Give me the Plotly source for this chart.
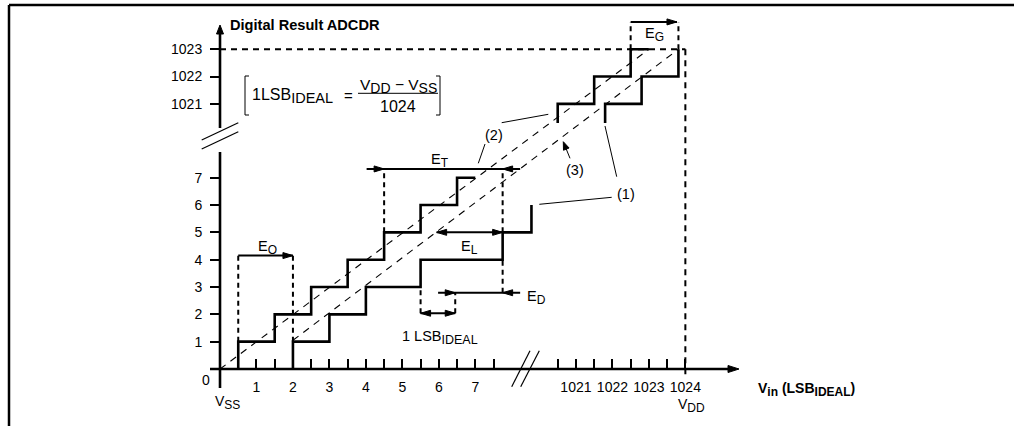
import plotly.graph_objects as go

# ---------------- data (LSB units) ----------------
y_ticks_low = [1, 2, 3, 4, 5, 6, 7]
y_ticks_high = [1021, 1022, 1023]
x_ticks_low = [1, 2, 3, 4, 5, 6, 7]
x_ticks_high = [1021, 1022, 1023, 1024]
x_half_low = [0.5, 1.5, 2.5, 3.5, 4.5, 5.5, 6.5, 7.5]
x_half_high = [1020.5, 1021.5, 1022.5, 1023.5]

# (2) ideal transfer curve: transition points and output codes
ideal_trans_low = [0.5, 1.5, 2.5, 3.5, 4.5, 5.5, 6.5]
ideal_codes_low = [1, 2, 3, 4, 5, 6, 7]
ideal_trans_high = [1020.5, 1021.5, 1022.5]
ideal_codes_high = [1021, 1022, 1023]

# (1) actual transfer curve
actual_trans_low = [2.0, 3.0, 4.0, 5.5, 7.75, 8.54]
actual_codes_low = [1, 2, 3, 4, 5, 6]
actual_trans_high = [1021.8, 1022.8, 1023.81]
actual_codes_high = [1021, 1022, 1023]

# straight lines: ideal (dashed) and end-point fit (3)
ideal_line_x = [0.0, 1023.0]
ideal_line_y = [0.0, 1023.0]
fit_line_x = [2.0, 1023.81]
fit_line_y = [1.05, 1023.0]

# error arrows: name -> (x_start, x_end, y, heads[(x_tip, dir)])
err_arrows = {
    "EO": (0.5, 2.0, 4.15, [(2.0, 1)]),
    "ET": (4.02, 8.23, 7.32, [(4.5, 1), (7.75, -1)]),
    "EL": (5.94, 7.75, 5.0, [(5.94, -1), (7.75, 1)]),
    "ED": (5.98, 8.23, 2.79, [(6.45, 1), (7.75, -1)]),
    "LSB": (5.5, 6.45, 2.04, [(5.5, -1), (6.45, 1)]),
    "EG": (1022.5, 1023.77, 1024.0, [(1023.77, 1)]),
}
# dashed guide segments: (x, y_from, y_to)
guides_v = [
    (0.5, 1.0, 4.15), (2.0, 1.0, 4.15),
    (4.5, 5.0, 7.32), (7.75, 5.0, 7.32), (7.75, 2.79, 4.0),
    (5.5, 2.04, 3.0), (6.45, 2.04, 2.79),
    (1022.5, 1023.0, 1024.0), (1023.81, 1023.0, 1024.0),
]
full_scale_code = 1023
full_scale_vin = 1024

# ---------------- broken-axis scale ----------------
UX = 36.47   # px per LSB horizontally
UY = 27.33   # px per LSB vertically
X_OFF = 1011.24
Y_OFF = 1011.3
X0_PX, Y0_PX = 220, 369
W, H = 1014, 426


def bx(v):
    return v - X_OFF if v > 500 else v


def by(v):
    return v - Y_OFF if v > 500 else v


def stair(trans, codes, y0, x_end=None):
    pts = [(trans[0], y0)]
    for i, t in enumerate(trans):
        pts.append((t, codes[i]))
        if i + 1 < len(trans):
            pts.append((trans[i + 1], codes[i]))
    if x_end is not None:
        pts.append((x_end, codes[-1]))
    return [bx(p[0]) for p in pts], [by(p[1]) for p in pts]


def head(xt, yt, dx, dy, L=10, Wd=3.2):
    # tip in data coords, direction (dx,dy) in px (y up)
    n = (dx * dx + dy * dy) ** 0.5
    dx, dy = dx / n, dy / n
    bxp, byp = -dx * L, -dy * L
    px, py = -dy * Wd, dx * Wd
    xs = [xt, xt + (bxp + px) / UX, xt + (bxp - px) / UX, xt]
    ys = [yt, yt + (byp + py) / UY, yt + (byp - py) / UY, yt]
    return xs, ys


def X(px):
    return (px - X0_PX) / UX


def Y(py):
    return (Y0_PX - py) / UY


fig = go.Figure()


def add_lines(segs, width, dash=None, color="black"):
    xs, ys = [], []
    for sx, sy in segs:
        xs += list(sx) + [None]
        ys += list(sy) + [None]
    fig.add_trace(go.Scatter(x=xs, y=ys, mode="lines", hoverinfo="skip",
                             line=dict(color=color, width=width, dash=dash),
                             showlegend=False, cliponaxis=False))


def add_heads(hs):
    xs, ys = [], []
    for hx, hy in hs:
        xs += hx + [None]
        ys += hy + [None]
    fig.add_trace(go.Scatter(x=xs, y=ys, mode="lines", fill="toself",
                             fillcolor="black", line=dict(color="black", width=1),
                             hoverinfo="skip", showlegend=False))


# thin dashed straight lines
add_lines([([bx(v) for v in ideal_line_x], [by(v) for v in ideal_line_y]),
           ([bx(v) for v in fit_line_x], [by(v) for v in fit_line_y])],
          1.1, dash="7px,6px")

# full-scale dashed limits
add_lines([([0, bx(full_scale_vin)], [by(full_scale_code)] * 2),
           ([bx(full_scale_vin)] * 2, [by(full_scale_code), Y(379)])],
          2, dash="6px,5px")

# guide dashed verticals
add_lines([([bx(g[0])] * 2, [by(g[1]), by(g[2])]) for g in guides_v], 2, dash="5px,4px")

# staircases
stairs = [stair(ideal_trans_low, ideal_codes_low, 0, 7.0),
          stair(ideal_trans_high, ideal_codes_high, 1020.3, 1023.0),
          stair(actual_trans_low, actual_codes_low, 0),
          stair(actual_trans_high, actual_codes_high, 1020.3)]
add_lines(stairs, 2.6)

# error arrows
arrow_segs, heads = [], []
for k, (xa, xb, ya, hl) in err_arrows.items():
    arrow_segs.append(([bx(xa), bx(xb)], [by(ya)] * 2))
    for xt, d in hl:
        heads.append(head(bx(xt), by(ya), d, 0, L=10, Wd=3.0))
add_lines(arrow_segs, 2)

# axes (drawn, broken)
add_lines([([0, 0], [Y(388), Y(152)]), ([0, 0], [Y(128), Y(32)]),
           ([X(210), X(730)], [0, 0])], 2.6)
heads.append(head(0, Y(25), 0, 1, L=9, Wd=3.5))
heads.append(head(X(739), 0, 1, 0, L=11, Wd=3.5))

# leader lines
add_lines([([X(501.7), X(548.3)], [Y(122.7), Y(114.3)]),
           ([X(478.3), X(485)], [Y(163.3), Y(144)]),
           ([X(611.7), X(539.3)], [Y(197.3), Y(204.3)]),
           ([X(616.7), X(605)], [Y(176.7), Y(126)]),
           ([X(570), X(565)], [Y(158.3), Y(146)])], 1)
heads.append(head(X(563.3), Y(141.7), -6.7, 16.6, L=8, Wd=3))

# break marks
add_lines([([X(201.7), X(238.3)], [Y(140), Y(122.7)]),
           ([X(201.7), X(238.3)], [Y(149), Y(131.7)]),
           ([X(511.7), X(530)], [Y(386.7), Y(350.7)]),
           ([X(520.7), X(539.3)], [Y(386.7), Y(350.7)])], 1.2)

# formula bracket + fraction bar
add_lines([([X(249), X(245), X(245), X(249)], [Y(76), Y(76), Y(115), Y(115)]),
           ([X(436), X(440), X(440), X(436)], [Y(76), Y(76), Y(115), Y(115)]),
           ([X(358), X(438)], [Y(93.3), Y(93.3)])], 1)

add_heads(heads)

FONT = "Liberation Sans, Arial, Helvetica, sans-serif"


def sub(main, s, size):
    return f'{main}<sub><span style="font-size:{size}px">{s}</span></sub>'


texts = [
    ("<b>Digital Result ADCDR</b>", X(228), Y(25), 14.6, "left"),
    ("0", X(206), Y(380), 14, "center"),
    (sub("V", "SS", 12), X(227), Y(402), 14, "center"),
    (sub("V", "DD", 12), X(691), Y(405), 14, "center"),
    ("<b>V<sub><span style='font-size:12px'>in</span></sub> (LSB<sub><span style='font-size:12px'>IDEAL</span></sub>)</b>",
     X(756), Y(389), 14, "left"),
    (sub("E", "O", 12), X(267), Y(247), 14.5, "center"),
    (sub("E", "T", 12), X(440), Y(160), 14.5, "center"),
    (sub("E", "L", 12), X(469), Y(247), 14.5, "center"),
    (sub("E", "D", 12), X(525), Y(297), 14.5, "left"),
    (sub("E", "G", 12), X(654), Y(34), 14.5, "center"),
    (sub("1 LSB", "IDEAL", 12.5), X(440), Y(337), 14.5, "center"),
    ("(1)", X(626), Y(194), 14.5, "center"),
    ("(2)", X(493.5), Y(134.5), 14.5, "center"),
    ("(3)", X(574.5), Y(170), 14.5, "center"),
    (sub("1LSB", "IDEAL", 14.5), X(250), Y(96), 16, "left"),
    ("=", X(348), Y(95), 15, "center"),
    (sub("V", "DD", 14) + " \u2212 " + sub("V", "SS", 14), X(398), Y(86), 15.5, "center"),
    ("1024", X(398), Y(106), 16, "center"),
]
annotations = [dict(text=t, x=x, y=y, xref="x", yref="y", showarrow=False,
                    xanchor=xa, yanchor="middle", font=dict(size=s, color="black", family=FONT))
               for t, x, y, s, xa in texts]

frame_x = 9 / W
frame_y = 1 - 5 / H
shapes = [dict(type="line", xref="paper", yref="paper", x0=frame_x, x1=frame_x, y0=-0.05, y1=frame_y,
               line=dict(color="black", width=2.5)),
          dict(type="line", xref="paper", yref="paper", x0=frame_x, x1=1.05, y0=frame_y, y1=frame_y,
               line=dict(color="black", width=2.5))]

x_tickvals = x_ticks_low + [bx(v) for v in x_ticks_high]
x_ticktext = [str(v) for v in x_ticks_low + x_ticks_high]
x_minor = x_half_low + [bx(v) for v in x_half_high]
y_tickvals = y_ticks_low + [by(v) for v in y_ticks_high]
y_ticktext = [str(v) for v in y_ticks_low + y_ticks_high]

fig.update_layout(
    width=W, height=H, autosize=False,
    margin=dict(l=0, r=0, t=0, b=0),
    paper_bgcolor="white", plot_bgcolor="white",
    font=dict(family=FONT, color="black", size=14),
    annotations=annotations, shapes=shapes, showlegend=False,
    xaxis=dict(range=[-X0_PX / UX, (W - X0_PX) / UX], anchor="free", position=1 - Y0_PX / H,
               showgrid=False, zeroline=False, showline=False,
               tickmode="array", tickvals=x_tickvals, ticktext=x_ticktext,
               ticks="inside", ticklen=10, tickwidth=2, tickcolor="black",
               minor=dict(tickmode="array", tickvals=x_minor, ticks="inside", ticklen=10,
                          tickwidth=2, tickcolor="black", showgrid=False),
               tickfont=dict(size=14, family=FONT, color="black"), ticklabelstandoff=8),
    yaxis=dict(range=[-(H - Y0_PX) / UY, Y0_PX / UY], anchor="free", position=X0_PX / W,
               showgrid=False, zeroline=False, showline=False,
               tickmode="array", tickvals=y_tickvals, ticktext=y_ticktext,
               ticks="outside", ticklen=10, tickwidth=2, tickcolor="black",
               tickfont=dict(size=14, family=FONT, color="black"), ticklabelstandoff=5),
)

fig.write_html("out.html", config={"displayModeBar": False, "staticPlot": True},
               post_script="document.body.style.margin='0';document.body.style.overflow='hidden';")
